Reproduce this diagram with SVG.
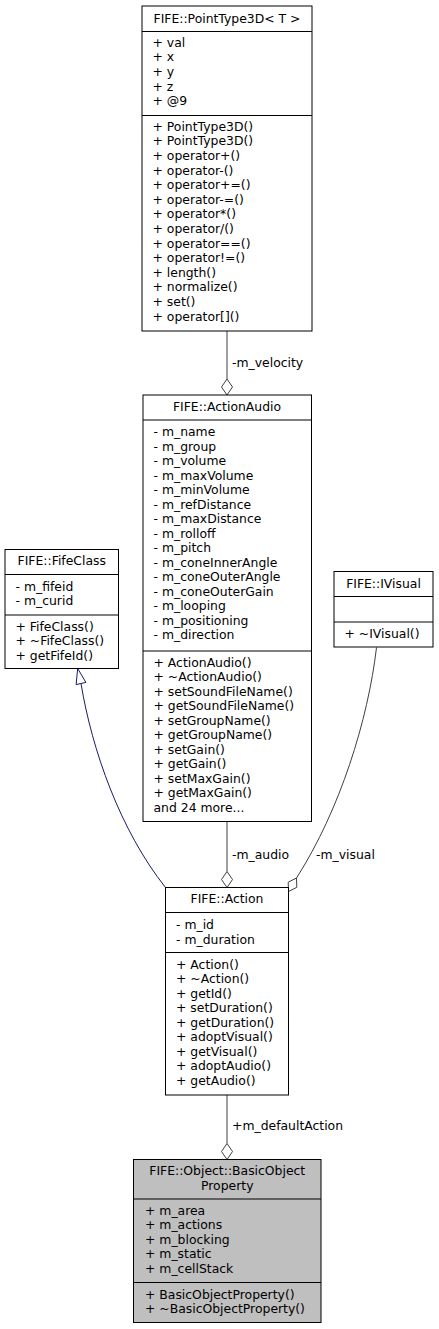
<svg xmlns="http://www.w3.org/2000/svg" width="439" height="1329" viewBox="0 0 439 1329">
<style>
.bg{fill:#ffffff}
.box{fill:#ffffff;stroke:#000000;stroke-width:1}
.hl{fill:#bfbfbf;stroke:#000000;stroke-width:1}
.div{stroke:#000000;stroke-width:1}
text{font-family:"DejaVu Sans","Liberation Sans",sans-serif;font-size:12.4px;fill:#000000}
.c{text-anchor:middle}
.edge{fill:none;stroke:#404040;stroke-width:1}
.dia{fill:#ffffff;stroke:#404040;stroke-width:1}
.inh{fill:none;stroke:#191970;stroke-width:1}
.tri{fill:#ffffff;stroke:#191970;stroke-width:1}
</style>
<rect class="bg" x="0" y="0" width="439" height="1329"/>
<g id="connectors">
  <line class="edge" x1="227" y1="331" x2="227" y2="379"/>
  <polygon class="dia" points="227,379 232.5,387 227,395 221.5,387"/>
  <text x="232" y="367">-m_velocity</text>
  <line class="edge" x1="227" y1="821.5" x2="227" y2="871.5"/>
  <polygon class="dia" points="227,871.5 232.5,879.5 227,887.5 221.5,879.5"/>
  <text x="232" y="859">-m_audio</text>
  <path class="edge" d="M376.5,647.5 C368,720 340,810 296.5,878"/>
  <polygon class="dia" points="296.5,878 296.8,887.3 288.5,891.5 288.2,882.2"/>
  <text x="316" y="859">-m_visual</text>
  <line class="edge" x1="227" y1="1095" x2="227" y2="1143.5"/>
  <polygon class="dia" points="227,1143.5 232.5,1151.5 227,1159.5 221.5,1151.5"/>
  <text x="232" y="1130">+m_defaultAction</text>
  <path class="inh" d="M165.5,887.5 C120,830 92,750 81,683.5"/>
  <polygon class="tri" points="77.7,668.5 85.9,682.4 76.1,684.6"/>
</g>
<g id="PointType3D">
  <rect class="box" x="142" y="6" width="170" height="325"/>
  <line class="div" x1="142" y1="31.5" x2="312" y2="31.5"/>
  <line class="div" x1="142" y1="115.5" x2="312" y2="115.5"/>
  <text class="c" x="227" y="23">FIFE::PointType3D&lt; T &gt;</text>
  <text x="152.5" y="46.7">+ val</text>
  <text x="152.5" y="61.3">+ x</text>
  <text x="152.5" y="75.9">+ y</text>
  <text x="152.5" y="90.5">+ z</text>
  <text x="152.5" y="105.1">+ @9</text>
  <text x="152.5" y="130.7">+ PointType3D()</text>
  <text x="152.5" y="145.3">+ PointType3D()</text>
  <text x="152.5" y="159.9">+ operator+()</text>
  <text x="152.5" y="174.5">+ operator-()</text>
  <text x="152.5" y="189.1">+ operator+=()</text>
  <text x="152.5" y="203.7">+ operator-=()</text>
  <text x="152.5" y="218.3">+ operator*()</text>
  <text x="152.5" y="232.9">+ operator/()</text>
  <text x="152.5" y="247.5">+ operator==()</text>
  <text x="152.5" y="262.1">+ operator!=()</text>
  <text x="152.5" y="276.7">+ length()</text>
  <text x="152.5" y="291.3">+ normalize()</text>
  <text x="152.5" y="305.9">+ set()</text>
  <text x="152.5" y="320.5">+ operator[]()</text>
</g>
<g id="ActionAudio">
  <rect class="box" x="143" y="395" width="168.5" height="426.5"/>
  <line class="div" x1="143" y1="420" x2="311.5" y2="420"/>
  <line class="div" x1="143" y1="651" x2="311.5" y2="651"/>
  <text class="c" x="227" y="410.7">FIFE::ActionAudio</text>
  <text x="153.5" y="436.2">- m_name</text>
  <text x="153.5" y="450.7">- m_group</text>
  <text x="153.5" y="465.2">- m_volume</text>
  <text x="153.5" y="479.7">- m_maxVolume</text>
  <text x="153.5" y="494.2">- m_minVolume</text>
  <text x="153.5" y="508.7">- m_refDistance</text>
  <text x="153.5" y="523.2">- m_maxDistance</text>
  <text x="153.5" y="537.7">- m_rolloff</text>
  <text x="153.5" y="552.2">- m_pitch</text>
  <text x="153.5" y="566.7">- m_coneInnerAngle</text>
  <text x="153.5" y="581.2">- m_coneOuterAngle</text>
  <text x="153.5" y="595.7">- m_coneOuterGain</text>
  <text x="153.5" y="610.2">- m_looping</text>
  <text x="153.5" y="624.7">- m_positioning</text>
  <text x="153.5" y="639.2">- m_direction</text>
  <text x="153.5" y="666.7">+ ActionAudio()</text>
  <text x="153.5" y="681.2">+ ~ActionAudio()</text>
  <text x="153.5" y="695.7">+ setSoundFileName()</text>
  <text x="153.5" y="710.2">+ getSoundFileName()</text>
  <text x="153.5" y="724.7">+ setGroupName()</text>
  <text x="153.5" y="739.2">+ getGroupName()</text>
  <text x="153.5" y="753.7">+ setGain()</text>
  <text x="153.5" y="768.2">+ getGain()</text>
  <text x="153.5" y="782.7">+ setMaxGain()</text>
  <text x="153.5" y="797.2">+ getMaxGain()</text>
  <text x="153.5" y="811.7">and 24 more...</text>
</g>
<g id="FifeClass">
  <rect class="box" x="5" y="549.5" width="113.5" height="119"/>
  <line class="div" x1="5" y1="574.5" x2="118.5" y2="574.5"/>
  <line class="div" x1="5" y1="615" x2="118.5" y2="615"/>
  <text class="c" x="61.75" y="565">FIFE::FifeClass</text>
  <text x="15.5" y="590.5">- m_fifeid</text>
  <text x="15.5" y="605">- m_curid</text>
  <text x="15.5" y="630.7">+ FifeClass()</text>
  <text x="15.5" y="645.2">+ ~FifeClass()</text>
  <text x="15.5" y="659.7">+ getFifeId()</text>
</g>
<g id="IVisual">
  <rect class="box" x="334" y="571.5" width="99" height="75.5"/>
  <line class="div" x1="334" y1="596.5" x2="433" y2="596.5"/>
  <line class="div" x1="334" y1="622" x2="433" y2="622"/>
  <text class="c" x="383.5" y="588">FIFE::IVisual</text>
  <text x="344.5" y="638">+ ~IVisual()</text>
</g>
<g id="Action">
  <rect class="box" x="165.5" y="887.5" width="123" height="207.5"/>
  <line class="div" x1="165.5" y1="912.5" x2="288.5" y2="912.5"/>
  <line class="div" x1="165.5" y1="952.5" x2="288.5" y2="952.5"/>
  <text class="c" x="227" y="903">FIFE::Action</text>
  <text x="176" y="929">- m_id</text>
  <text x="176" y="943.5">- m_duration</text>
  <text x="176" y="968.5">+ Action()</text>
  <text x="176" y="983">+ ~Action()</text>
  <text x="176" y="997.5">+ getId()</text>
  <text x="176" y="1012">+ setDuration()</text>
  <text x="176" y="1026.5">+ getDuration()</text>
  <text x="176" y="1041">+ adoptVisual()</text>
  <text x="176" y="1055.5">+ getVisual()</text>
  <text x="176" y="1070">+ adoptAudio()</text>
  <text x="176" y="1084.5">+ getAudio()</text>
</g>
<g id="BasicObjectProperty">
  <rect class="hl" x="133.5" y="1159.5" width="187.5" height="163"/>
  <line class="div" x1="133.5" y1="1199" x2="321" y2="1199"/>
  <line class="div" x1="133.5" y1="1282.5" x2="321" y2="1282.5"/>
  <text class="c" x="227.25" y="1175">FIFE::Object::BasicObject</text>
  <text class="c" x="227.25" y="1189.5">Property</text>
  <text x="145" y="1214.7">+ m_area</text>
  <text x="145" y="1229.2">+ m_actions</text>
  <text x="145" y="1243.7">+ m_blocking</text>
  <text x="145" y="1258.2">+ m_static</text>
  <text x="145" y="1272.7">+ m_cellStack</text>
  <text x="145" y="1298.5">+ BasicObjectProperty()</text>
  <text x="145" y="1313">+ ~BasicObjectProperty()</text>
</g>
</svg>
